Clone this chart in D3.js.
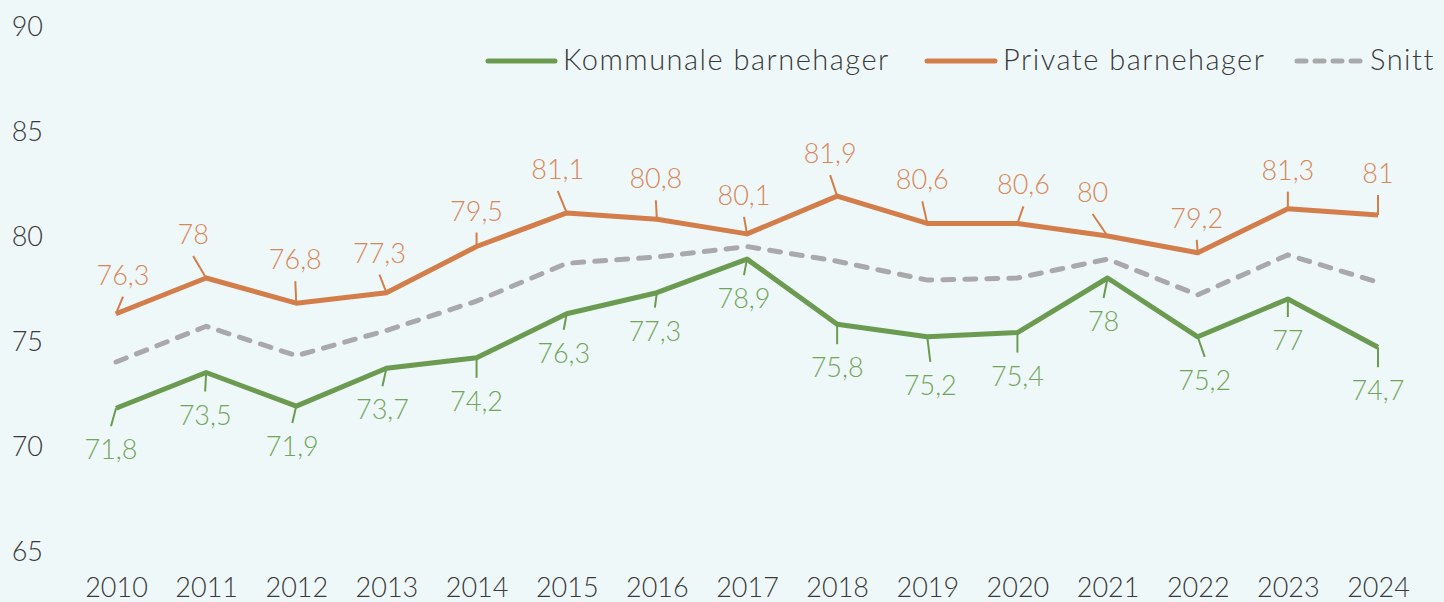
<!DOCTYPE html>
<html>
<head>
<meta charset="utf-8">
<script src="https://cdn.jsdelivr.net/npm/d3@7"></script>
<style>
  html, body { margin: 0; padding: 0; background: #eff8f9; }
  svg { display: block; }
  text { font-family: "Lato", "Open Sans", sans-serif; font-weight: 300; }
</style>
</head>
<body>
<svg id="chart" width="1444" height="602"></svg>
<script>
// ---- data ----
const years = [2010, 2011, 2012, 2013, 2014, 2015, 2016, 2017, 2018, 2019, 2020, 2021, 2022, 2023, 2024];
const kommunale = [71.8, 73.5, 71.9, 73.7, 74.2, 76.3, 77.3, 78.9, 75.8, 75.2, 75.4, 78, 75.2, 77, 74.7];
const privat = [76.3, 78, 76.8, 77.3, 79.5, 81.1, 80.8, 80.1, 81.9, 80.6, 80.6, 80, 79.2, 81.3, 81];
const snitt = [74.0, 75.7, 74.3, 75.5, 76.9, 78.7, 79.0, 79.5, 78.8, 77.9, 78.0, 78.9, 77.2, 79.1, 77.8];
const yTicks = [65, 70, 75, 80, 85, 90];
const seriesNames = ["Kommunale barnehager", "Private barnehager", "Snitt"];

// ---- layout (label leader vectors, px) ----
const kommunaleLeader = [[-5,18],[-1,19],[-4,17],[-4,18],[0,20],[-3,16],[-2,15],[-3,16],[0,20],[3,25],[0,20],[-4,20],[7,20],[0,18],[0,20]];
const privatLeader = [[7,-17],[-13,-22],[-1,-22],[-7,-18],[0,-14],[-9,-22],[-1,-19],[-3,-17],[-7,-21],[-5,-22],[6,-17],[-15,-22],[-1,-13],[0,-17],[0,-20]];

const colors = { k: "#6a9b50", p: "#d27d4a", s: "#a9a9ab", kText: "#72a55a", pText: "#d8875a", axis: "#3a3a3a" };

const svg = d3.select("#chart");
const x = d3.scalePoint().domain(years).range([116, 1378]);
const y = d3.scaleLinear().domain([65, 90]).range([551, 26]);

// y tick labels
const yAxis = d3.axisLeft(y).tickValues(yTicks).tickSize(0).tickPadding(0);
const gy = svg.append("g").attr("transform", "translate(43,0)").call(yAxis);
gy.select(".domain").remove();
gy.selectAll("text").attr("fill", colors.axis).style("font-size", "27px")
  .style("font-family", "Lato, sans-serif").style("font-weight", 300).attr("dy", "0.36em");

// x tick labels
const xAxis = d3.axisBottom(x).tickSize(0).tickPadding(0).tickFormat(d3.format("d"));
const gx = svg.append("g").attr("transform", "translate(0,578)").call(xAxis);
gx.select(".domain").remove();
gx.selectAll("text").attr("fill", colors.axis).style("font-size", "27px")
  .style("font-family", "Lato, sans-serif").style("font-weight", 300).attr("dy", "0.71em");

const line = d3.line().x((d, i) => x(years[i])).y(d => y(d));

// leaders
function leaders(vals, vecs, col) {
  svg.append("g").selectAll("line").data(vals).join("line")
    .attr("x1", (d, i) => x(years[i])).attr("y1", d => y(d))
    .attr("x2", (d, i) => x(years[i]) + vecs[i][0]).attr("y2", (d, i) => y(d) + vecs[i][1])
    .attr("stroke", col).attr("stroke-width", 2);
}
leaders(privat, privatLeader, colors.p);
leaders(kommunale, kommunaleLeader, colors.k);

// lines
svg.append("path").datum(snitt).attr("d", line).attr("fill", "none")
  .attr("stroke", colors.s).attr("stroke-width", 5).attr("stroke-linecap", "round")
  .attr("stroke-dasharray", "11,11");
svg.append("path").datum(kommunale).attr("d", line).attr("fill", "none")
  .attr("stroke", colors.k).attr("stroke-width", 5).attr("stroke-linejoin", "round");
svg.append("path").datum(privat).attr("d", line).attr("fill", "none")
  .attr("stroke", colors.p).attr("stroke-width", 5).attr("stroke-linejoin", "round");

const fmt = v => String(v).replace(".", ",");

// labels
svg.append("g").selectAll("text").data(privat).join("text")
  .attr("x", (d, i) => x(years[i]) + privatLeader[i][0])
  .attr("y", (d, i) => y(d) + privatLeader[i][1] - 12)
  .attr("text-anchor", "middle").attr("fill", colors.pText).style("font-size", "27px")
  .text(fmt);
svg.append("g").selectAll("text").data(kommunale).join("text")
  .attr("x", (d, i) => x(years[i]) + kommunaleLeader[i][0])
  .attr("y", (d, i) => y(d) + kommunaleLeader[i][1] + 33)
  .attr("text-anchor", "middle").attr("fill", colors.kText).style("font-size", "27px")
  .text(fmt);

// legend
const legend = [
  { name: seriesNames[0], col: colors.k, x0: 488, x1: 555, tx: 563, dash: null },
  { name: seriesNames[1], col: colors.p, x0: 927, x1: 995, tx: 1003, dash: null },
  { name: seriesNames[2], col: colors.s, x0: 1297, x1: 1364, tx: 1370, dash: "9,9" }
];
const lg = svg.append("g").selectAll("g").data(legend).join("g");
lg.append("line").attr("x1", d => d.x0).attr("x2", d => d.x1).attr("y1", 61).attr("y2", 61)
  .attr("stroke", d => d.col).attr("stroke-width", 5).attr("stroke-linecap", "round")
  .attr("stroke-dasharray", d => d.dash);
lg.append("text").attr("x", d => d.tx).attr("y", 70).attr("fill", colors.axis)
  .style("font-size", "29px").style("letter-spacing", "1.5px").text(d => d.name);
</script>
</body>
</html>
